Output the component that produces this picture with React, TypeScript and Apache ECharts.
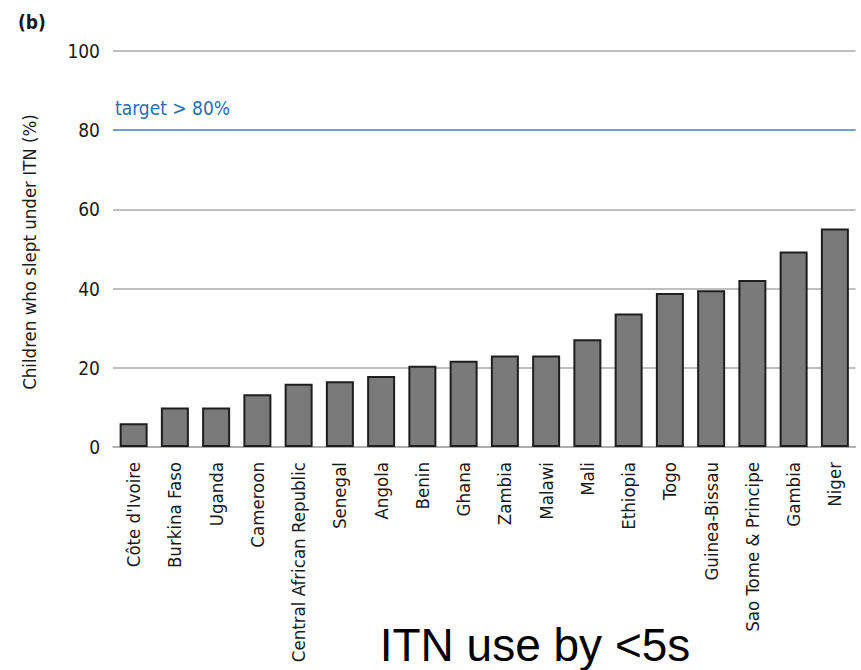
import React, { useEffect, useRef } from "react";
import * as echarts from "echarts";

const countries = [
  "Côte d'Ivoire", "Burkina Faso", "Uganda", "Cameroon", "Central African Republic",
  "Senegal", "Angola", "Benin", "Ghana", "Zambia", "Malawi", "Mali", "Ethiopia",
  "Togo", "Guinea-Bissau", "Sao Tome & Principe", "Gambia", "Niger",
];
const itnUse = [6, 10, 10, 13.3, 16, 16.6, 17.9, 20.5, 21.8, 23.1, 23.1, 27.2, 33.7, 38.9, 39.6, 42.2, 49.4, 55.2];
const targetValue = 80;
const yTicks = { min: 0, max: 100, interval: 20 };

const NARROW = "'DejaVu Sans Condensed', 'Liberation Sans Narrow', sans-serif";

export default function App() {
  const ref = useRef<HTMLDivElement>(null);
  useEffect(() => {
    document.body.style.margin = "0";
    const chart = echarts.init(ref.current!, null, { renderer: "svg" });
    chart.setOption({
      animation: false,
      backgroundColor: "#ffffff",
      grid: { left: 113, right: 5.5, top: 51, height: 396, outerBoundsMode: "none", containLabel: false },
      xAxis: {
        type: "category",
        data: countries,
        axisLine: { show: true, lineStyle: { color: "#aaaaaa", width: 1.5 } },
        axisTick: { show: false },
        axisLabel: {
          rotate: 90,
          interval: 0,
          margin: 15,
          color: "#1a1a1a",
          fontFamily: NARROW,
          fontSize: 18.5,
        },
      },
      yAxis: {
        type: "value",
        min: yTicks.min,
        max: yTicks.max,
        interval: yTicks.interval,
        axisLine: { show: false },
        axisTick: { show: false },
        axisLabel: { margin: 13, color: "#1a1a1a", fontFamily: NARROW, fontSize: 19 },
        splitLine: { lineStyle: { color: "#aaaaaa", width: 1.5 } },
      },
      series: [
        {
          type: "bar",
          data: itnUse,
          barWidth: 28,
          itemStyle: { color: "#7a7a7a", borderColor: "#1e1e1e", borderWidth: 2 },
          markLine: {
            silent: true,
            symbol: "none",
            label: { show: false },
            lineStyle: { color: "#6d9fd8", width: 1.8, type: "solid" },
            data: [{ yAxis: targetValue }],
          },
        },
      ],
      graphic: [
        {
          type: "text",
          x: 32,
          y: 22,
          style: {
            text: "(b)",
            font: `bold 19px ${NARROW}`,
            fill: "#1a1a1a",
            textAlign: "center",
            textVerticalAlign: "middle",
          },
        },
        {
          type: "text",
          x: 115,
          y: 108,
          style: {
            text: "target > 80%",
            font: `19px ${NARROW}`,
            fill: "#2a6db5",
            textAlign: "left",
            textVerticalAlign: "middle",
          },
        },
        {
          type: "text",
          x: 29,
          y: 252,
          rotation: Math.PI / 2,
          style: {
            text: "Children who slept under ITN (%)",
            font: `18.5px ${NARROW}`,
            fill: "#1a1a1a",
            textAlign: "center",
            textVerticalAlign: "middle",
          },
        },
        {
          type: "text",
          x: 535,
          y: 645,
          style: {
            text: "ITN use by <5s",
            font: "46px 'Liberation Sans', Arial, sans-serif",
            fill: "#000000",
            textAlign: "center",
            textVerticalAlign: "middle",
          },
        },
      ],
    });
    return () => chart.dispose();
  }, []);
  return <div ref={ref} style={{ width: 861, height: 670 }} />;
}
